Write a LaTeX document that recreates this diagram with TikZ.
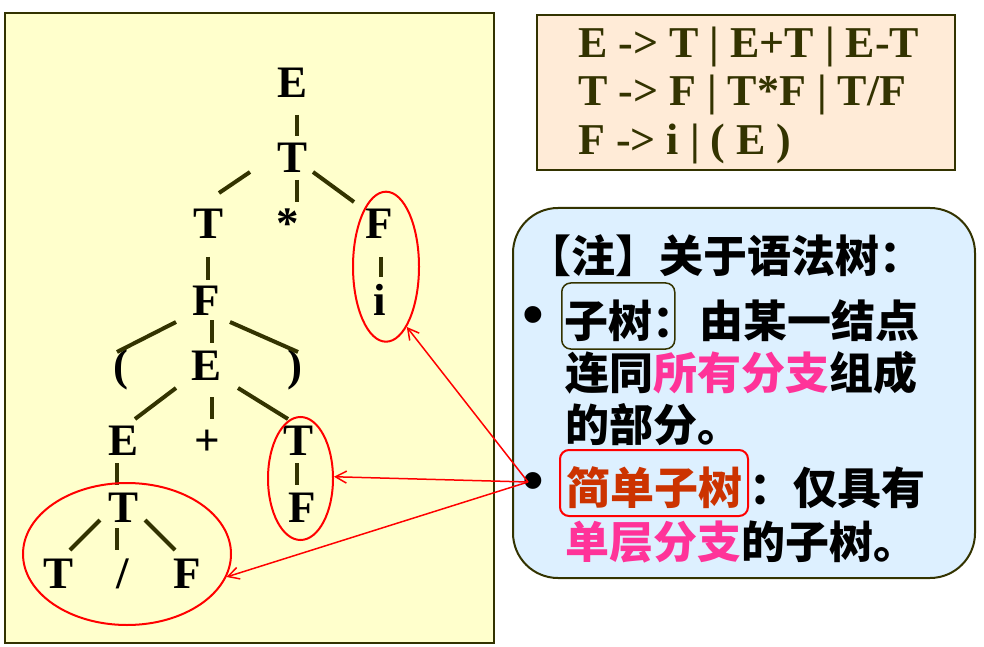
\documentclass[tikz,border=0pt]{standalone}
\usepackage{fontspec}
\setmainfont{Liberation Serif}
\newfontfamily\cjk{Noto Sans CJK SC}[BoldFont={Noto Sans CJK SC Black}]
\newfontfamily\dotfont{Liberation Sans}
\usepackage{tikz}
\usetikzlibrary{calc}
\usetikzlibrary{positioning, shapes.geometric, arrows.meta}
\definecolor{darkolive}{HTML}{333300}
\definecolor{paleyellow}{HTML}{FFFFCC}
\definecolor{peach}{HTML}{FFEBD7}
\definecolor{skyfill}{HTML}{DDF0FF}
\definecolor{hotpink}{HTML}{FF3399}
\definecolor{rust}{HTML}{CC3300}
\tikzstyle{sym} = [inner sep=0pt, 
text height=30pt, 
text depth=0pt, 
anchor=base, 
font=\bfseries\fontsize{45}{45}\selectfont]
\tikzstyle{branch} = [draw=darkolive, line width=4pt]
\tikzstyle{ring} = [ellipse, draw=red, line width=2pt, inner sep=0pt]
\tikzstyle{pointer} = [red, line width=1.5pt, -{Straight Barb[length=11pt, width=12pt]}]
\tikzstyle{panel} = [rectangle, draw=darkolive, line width=2pt]
\tikzstyle{gram} = [inner sep=0pt, 
anchor=base west, 
text=darkolive, 
font=\bfseries\fontsize{44}{48}\selectfont]
\tikzstyle{note} = [inner sep=0pt, 
anchor=base west, 
font=\cjk\bfseries\fontsize{44}{52}\selectfont]
\tikzstyle{labelbox} = [note, 
rounded corners=9pt, 
text height=47pt, 
text depth=5pt, 
inner ysep=7pt]
\tikzstyle{bullet} = [inner sep=0pt, font=\dotfont\fontsize{62}{62}\selectfont]

\begin{document}
\begin{tikzpicture}[x=1pt, y=1pt]
    \useasboundingbox (0,0) rectangle (984,646);
    \node (yard) [panel, fill=paleyellow, minimum width=489pt, minimum height=630pt] at (249.5,318) {};
    \node (rules) [panel, fill=peach, minimum width=418pt, minimum height=155pt] at (746,553.5) {};
    \node (remark) [panel, fill=skyfill, rounded corners=45pt, minimum width=462pt, minimum height=370pt] at (744,253) {};

    % grammar
    \node (r1) [gram] at (578,588) {E -> T | E+T | E-T};
    \node (r2) [gram] at (578,540) {T -> F | T*F | T/F};
    \node (r3) [gram] at (578,491) {F -> i | ( E )};

    % syntax tree
    \node (E0) [sym] at (293,548) {E};
    \node (T0) [sym] at (293,473) {T};
    \node (T1) [sym] at (209,407) {T};
    \node (star) [sym] at (288,407) {*};
    \node (F1) [sym] at (379,407) {F};
    \node (F2) [sym] at (206,331) {F};
    \node (leaf) [sym] at (380,331) {i};
    \node (lp) [sym] at (121,266) {(};
    \node (E2) [sym] at (207,266) {E};
    \node (rp) [sym] at (295,266) {)};
    \node (E3) [sym] at (124,191) {E};
    \node (plus) [sym] at (207,191) {+};
    \node (T3) [sym] at (299,191) {T};
    \node (T4) [sym] at (124,124) {T};
    \node (F4) [sym] at (302,124) {F};
    \node (T5) [sym] at (59,58) {T};
    \node (slash) [sym] at (123,58) {/};
    \node (F5) [sym] at (187,58) {F};

    \draw [branch] ($(E0)+(4,-32)$) -- ($(T0)+(4,22)$);
    \draw [branch] ($(T0)+(-43,-14)$) -- ($(T1)+(10,31)$);
    \draw [branch] ($(T0)+(4,-22)$) -- ($(star)+(9,22)$);
    \draw [branch] ($(T0)+(20,-14)$) -- ($(F1)+(-25,22)$);
    \draw [branch] ($(T1)+(-1,-33)$) -- ($(F2)+(2,20)$);
    \draw [branch] ($(F1)+(2,-33)$) -- ($(leaf)+(1,23)$);
    \draw [branch] ($(F2)+(-30,-22)$) -- ($(lp)+(-4,13)$);
    \draw [branch] ($(F2)+(6,-20)$) -- ($(E2)+(5,22)$);
    \draw [branch] ($(F2)+(24,-22)$) -- ($(rp)+(3,13)$);
    \draw [branch] ($(E2)+(-31,-23)$) -- ($(E3)+(11,21)$);
    \draw [branch] ($(E2)+(5,-32)$) -- ($(plus)+(5,21)$);
    \draw [branch] ($(E2)+(31,-23)$) -- ($(T3)+(-11,21)$);
    \draw [branch] ($(E3)+(-7,-23)$) -- ($(T4)+(-7,22)$);
    \draw [branch] ($(T3)+(-2,-23)$) -- ($(F4)+(-5,22)$);
    \draw [branch] ($(T4)+(-24,-13)$) -- ($(T5)+(11,23)$);
    \draw [branch] ($(T4)+(-7,-21)$) -- ($(slash)+(-6,23)$);
    \draw [branch] ($(T4)+(21,-13)$) -- ($(F5)+(-12,23)$);

    \node (ovA) [ring, minimum width=66pt, minimum height=150pt] at (386,379.3) {};
    \node (ovB) [ring, minimum width=65pt, minimum height=123pt] at (300.5,167.5) {};
    \node (ovC) [ring, minimum width=208pt, minimum height=142pt] at (127,92) {};

    % remark
    \node (head) [note] at (527,373) {【注】关于语法树：};
    \node (dot1) [bullet] at (533,325) {•};
    \node (sub) [labelbox, draw=darkolive, line width=1.5pt, inner xsep=3pt] at (561,309) {子树\makebox[19pt][l]{：}};
    \node at (sub.base east) (def1) [note, xshift=24pt] {由某一结点};
    \node (def2) [note] at (565,257) {连同\textcolor{hotpink}{所有分支}组成};
    \node (def3) [note] at (565,205) {的部分。};
    \node (dot2) [bullet] at (533,159) {•};
    \node (simple) [labelbox, draw=red, line width=2pt, text=rust, inner xsep=6pt] at (559,142) {简单子树\hspace{11pt}};
    \node at (simple.base east) (def4) [note] {：仅具有};
    \node (def5) [note] at (565,88) {\textcolor{hotpink}{单层分支}的子树。};

    \coordinate (hub) at (528,164);
    \draw [pointer] (hub) -- (ovA.-71);
    \draw [pointer] (hub) -- (ovB.3);
    \draw [pointer] (hub) -- (ovC.-13);
\end{tikzpicture}
\end{document}
